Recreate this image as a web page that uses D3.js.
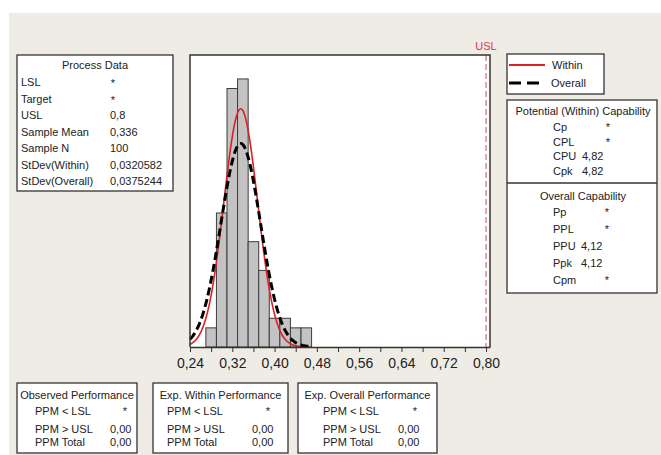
<!DOCTYPE html>
<html>
<head>
<meta charset="utf-8">
<script src="https://cdn.jsdelivr.net/npm/d3@7"></script>
<style>
body { margin: 0; background: #fff; }
text { font-family: "Liberation Sans", Arial, sans-serif; fill: #222; }
</style>
</head>
<body>
<script>
// histogram data (bin midpoints and counts)
var binMids = [0.28, 0.30, 0.32, 0.34, 0.36, 0.38, 0.40, 0.42, 0.44, 0.46];
var counts = [2, 14, 27, 28, 11, 8, 3, 3, 2, 2];
var binWidth = 0.02;
var xTicks = [0.24, 0.28, 0.32, 0.36, 0.40, 0.44, 0.48, 0.52, 0.56, 0.60, 0.64, 0.68, 0.72, 0.76, 0.80];
var xLabels = [0.24, 0.32, 0.40, 0.48, 0.56, 0.64, 0.72, 0.80];
var usl = 0.8;
var sampleMean = 0.336, sampleN = 100;
var sdWithin = 0.0320582, sdOverall = 0.0375244;

// text tables
var processLabels = ['LSL', 'Target', 'USL', 'Sample Mean', 'Sample N', 'StDev(Within)', 'StDev(Overall)'];
var processValues = ['*', '*', '0,8', '0,336', '100', '0,0320582', '0,0375244'];
var potentialLabels = ['Cp', 'CPL', 'CPU', 'Cpk'];
var potentialValues = ['*', '*', '4,82', '4,82'];
var overallLabels = ['Pp', 'PPL', 'PPU', 'Ppk', 'Cpm'];
var overallValues = ['*', '*', '4,12', '4,12', '*'];
var perfTitles = ['Observed Performance', 'Exp. Within Performance', 'Exp. Overall Performance'];
var perfLabels = ['PPM < LSL', 'PPM > USL', 'PPM Total'];
var perfValues = [['*', '0,00', '0,00'], ['*', '0,00', '0,00'], ['*', '0,00', '0,00']];

var svg = d3.select("body")
    .append("svg")
    .attr("width", 661)
    .attr("height", 455)
    .style('display', 'block');

// panel background
svg.append('rect')
    .attr('x', 9).attr('y', 13)
    .attr('width', 652).attr('height', 442)
    .attr('fill', '#EFECE6');

//plot area
var plotL = 190, plotR = 490, plotT = 55, plotB = 347;
var x = d3.scaleLinear().domain([0.24, 0.8075]).range([plotL, plotR]);
var y = d3.scaleLinear().domain([0, 30.5]).range([plotB, plotT]);

svg.append('rect')
    .attr('x', plotL).attr('y', plotT)
    .attr('width', plotR - plotL).attr('height', plotB - plotT)
    .attr('fill', 'white');

//bars
svg.append('g').selectAll('rect')
    .data(binMids)
    .enter()
    .append('rect')
    .attr('x', function (d) { return x(d - binWidth / 2); })
    .attr('width', function (d) { return x(d + binWidth / 2) - x(d - binWidth / 2); })
    .attr('y', function (d, i) { return y(counts[i]); })
    .attr('height', function (d, i) { return plotB - y(counts[i]); })
    .attr('fill', '#C3C3C3')
    .attr('stroke', '#3c3c3c')
    .attr('stroke-width', 1);

//normal curves scaled to counts
function normalCurve(sd) {
    var pts = [];
    for (var v = 0.24; v <= 0.4655; v += 0.0015) {
        var z = (v - sampleMean) / sd;
        pts.push([v, sampleN * binWidth * Math.exp(-0.5 * z * z) / (sd * Math.sqrt(2 * Math.PI))]);
    }
    return pts;
}
var line = d3.line()
    .x(function (d) { return x(d[0]); })
    .y(function (d) { return y(d[1]); })
    .curve(d3.curveBasis);

svg.append('path')
    .attr('d', line(normalCurve(sdWithin)))
    .attr('fill', 'none')
    .attr('stroke', '#DD1F26')
    .attr('stroke-width', 1.6);

svg.append('path')
    .attr('d', line(normalCurve(sdOverall)))
    .attr('fill', 'none')
    .attr('stroke', '#000')
    .attr('stroke-width', 3)
    .attr('stroke-dasharray', '8,4');

//USL line
svg.append('line')
    .attr('x1', x(usl)).attr('x2', x(usl))
    .attr('y1', plotT).attr('y2', plotB)
    .attr('stroke', '#C8505C')
    .attr('stroke-width', 1)
    .attr('stroke-dasharray', '6,3');

svg.append('text')
    .attr('x', x(usl))
    .attr('y', 46)
    .attr('text-anchor', 'middle')
    .attr('dominant-baseline', 'central')
    .style('font-size', '11px')
    .style('fill', '#D0404C')
    .text('USL');

//frame
svg.append('path')
    .attr('d', 'M' + plotL + ',' + plotB + 'V' + plotT + 'H' + plotR + 'V' + plotB)
    .attr('fill', 'none')
    .attr('stroke', '#333')
    .attr('stroke-width', 1.5);

//x axis
var fmt = d3.format('.2f');
var axis = svg.append('g')
    .attr('transform', 'translate(0,' + plotB + ')')
    .call(d3.axisBottom(x)
        .tickValues(xTicks)
        .tickSize(5)
        .tickSizeOuter(0)
        .tickPadding(6)
        .tickFormat(function (d) {
            var lab = xLabels.some(function (v) { return Math.abs(v - d) < 1e-9; });
            return lab ? fmt(d).replace('.', ',') : '';
        }));
axis.select('.domain').attr('stroke', '#333').attr('stroke-width', 1.5);
axis.selectAll('.tick line').attr('stroke', '#333');
axis.selectAll('text')
    .style('font-size', '14px')
    .style('font-family', '"Liberation Sans", Arial, sans-serif')
    .attr('fill', '#333');

//boxes
function box(x0, y0, x1, y1) {
    svg.append('rect')
        .attr('x', x0).attr('y', y0)
        .attr('width', x1 - x0).attr('height', y1 - y0)
        .attr('fill', 'white')
        .attr('stroke', '#333')
        .attr('stroke-width', 1.3);
}
function label(tx, ty, str, anchor) {
    svg.append('text')
        .attr('x', tx).attr('y', ty)
        .attr('text-anchor', anchor || 'start')
        .attr('dominant-baseline', 'central')
        .style('font-size', '11px')
        .text(str);
}

//process data
box(17, 55, 173, 191);
label(95, 65, 'Process Data', 'middle');
processLabels.forEach(function (d, i) {
    var ry = 82 + i * 16.5;
    label(21, ry, d);
    if (processValues[i] === '*') label(113, ry + 1, '*', 'middle');
    else label(110, ry, processValues[i]);
});

//legend
box(507, 54, 604, 94);
svg.append('line')
    .attr('x1', 509).attr('x2', 545)
    .attr('y1', 65).attr('y2', 65)
    .attr('stroke', '#DD1F26').attr('stroke-width', 2);
label(552, 65, 'Within');
svg.append('line')
    .attr('x1', 509).attr('x2', 541)
    .attr('y1', 83).attr('y2', 83)
    .attr('stroke', '#000').attr('stroke-width', 3)
    .attr('stroke-dasharray', '12,6');
label(551, 83, 'Overall');

//capability
box(507, 100, 657, 293);
svg.append('line')
    .attr('x1', 507).attr('x2', 657)
    .attr('y1', 183).attr('y2', 183)
    .attr('stroke', '#333').attr('stroke-width', 1.3);
label(583, 111, 'Potential (Within) Capability', 'middle');
potentialLabels.forEach(function (d, i) {
    var ry = 127 + i * 14.7;
    label(553, ry, d);
    if (potentialValues[i] === '*') label(608, ry, '*', 'middle');
    else label(582, ry, potentialValues[i]);
});
label(583, 196, 'Overall Capability', 'middle');
overallLabels.forEach(function (d, i) {
    var ry = 212 + i * 17;
    label(553, ry, d);
    if (overallValues[i] === '*') label(607, ry, '*', 'middle');
    else label(581, ry, overallValues[i]);
});

//performance boxes
var perfBox = [[17, 137], [153, 288], [298, 437]];
var perfLabelX = [35, 167, 323], perfValueX = [110, 252, 398], perfStarX = [125, 268, 415];
var perfRowY = [411, 429, 442];
perfTitles.forEach(function (t, k) {
    box(perfBox[k][0], 383, perfBox[k][1], 453);
    label((perfBox[k][0] + perfBox[k][1]) / 2, 395, t, 'middle');
    perfLabels.forEach(function (d, i) {
        label(perfLabelX[k], perfRowY[i], d);
        var v = perfValues[k][i];
        if (v === '*') label(perfStarX[k], perfRowY[i], '*', 'middle');
        else label(perfValueX[k], perfRowY[i], v);
    });
});
</script>
</body>
</html>
